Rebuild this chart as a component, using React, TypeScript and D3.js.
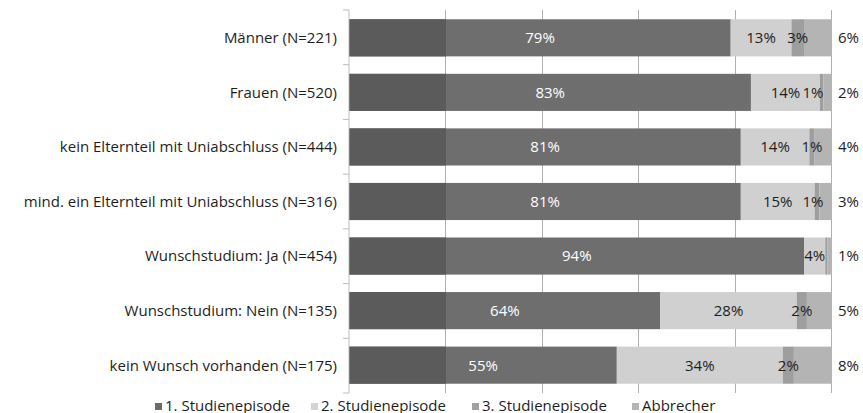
import React from "react";
import * as d3 from "d3";

const categories = [
  "Männer (N=221)",
  "Frauen (N=520)",
  "kein Elternteil mit Uniabschluss (N=444)",
  "mind. ein Elternteil mit Uniabschluss (N=316)",
  "Wunschstudium: Ja (N=454)",
  "Wunschstudium: Nein (N=135)",
  "kein Wunsch vorhanden (N=175)",
];
const seriesNames = ["1. Studienepisode", "2. Studienepisode", "3. Studienepisode", "Abbrecher"];
const episode1 = [79.0, 83.2, 81.1, 81.1, 94.2, 64.4, 55.4];
const episode2 = [12.6, 14.3, 14.2, 15.3, 4.4, 28.3, 34.4];
const episode3 = [2.6, 0.7, 1.1, 1.0, 0.4, 2.1, 2.3];
const abbrecher = [5.8, 1.8, 3.6, 2.6, 1.0, 5.2, 7.9];
const xTicks = [0, 20, 40, 60, 80, 100];

const colors = ["#6e6e6e", "#d0d0d0", "#9e9e9e", "#b4b4b4"];
const legendColors = ["#6b6b6b", "#d3d3d3", "#a0a0a0", "#b5b5b5"];
const FONT = "'Open Sans', sans-serif";
const FS = 15;

export default function App() {
  const W = 863, H = 413;
  const x = d3.scaleLinear().domain([0, 100]).range([349.5, 832]);
  const y = d3.scaleBand<string>().domain(categories).range([10, 393]).paddingInner(0.32).paddingOuter(0.17);
  const series = [episode1, episode2, episode3, abbrecher];
  const bw = y.bandwidth();
  const boundaries = d3.range(categories.length + 1).map((i) => 10 + i * (383 / categories.length));

  const legendX = [155, 311, 472, 632];

  return (
    <svg width={W} height={H} style={{ position: "absolute", left: 0, top: 0 }} fontFamily={FONT}>
      <rect x={0} y={0} width={W} height={H} fill="#fff" />
      {xTicks.slice(1).map((t) => (
        <line key={t} x1={Math.round(x(t)) - 0.5} x2={Math.round(x(t)) - 0.5} y1={10} y2={393} stroke="#b0b0b0" strokeWidth={1} />
      ))}
      <line x1={349} x2={349} y1={10} y2={393} stroke="#bdbdbd" strokeWidth={1} />
      {boundaries.map((b, i) => (
        <line key={i} x1={343} x2={349} y1={b} y2={b} stroke="#bdbdbd" strokeWidth={1} />
      ))}
      {categories.map((c, i) => {
        const y0 = y(c)!;
        let acc = 0;
        const cy = y0 + bw / 2;
        const els: React.ReactNode[] = [];
        series.forEach((s, si) => {
          const v = s[i];
          const a = acc;
          acc += v;
          const x1 = x(a), x2 = x(acc);
          els.push(<rect key={"r" + si} x={x1} y={y0} width={x2 - x1} height={bw} fill={colors[si]} />);
          if (si === 0) {
            els.push(<rect key="dk" x={x(0)} y={y0} width={x(20) - x(0)} height={bw} fill="#5b5b5b" />);
          }
        });
        acc = 0;
        series.forEach((s, si) => {
          const v = s[i];
          const a = acc;
          acc += v;
          const x1 = x(a), x2 = x(acc);
          const lbl = Math.round(v);
          if (lbl < 1) return;
          let lx = (x1 + x2) / 2;
          let anchor: "middle" | "start" = "middle";
          if (si === 2) lx = Math.min(lx, 813);
          if (si === 3) { lx = 838; anchor = "start"; }
          els.push(
            <text key={"t" + si} x={lx} y={cy} dy="0.36em" textAnchor={anchor} fontSize={FS}
              fill={si === 0 ? "#ffffff" : "#1e1e1e"}>{lbl}%</text>
          );
        });
        return (
          <g key={c}>
            {els}
            <text x={337} y={cy} dy="0.36em" textAnchor="end" fontSize={FS} fill="#1e1e1e">{c}</text>
          </g>
        );
      })}
      {seriesNames.map((n, i) => (
        <g key={n}>
          <rect x={legendX[i]} y={403} width={7} height={7} fill={legendColors[i]} />
          <text x={legendX[i] + 10} y={410.5} fontSize={FS} fill="#1e1e1e">{n}</text>
        </g>
      ))}
    </svg>
  );
}
